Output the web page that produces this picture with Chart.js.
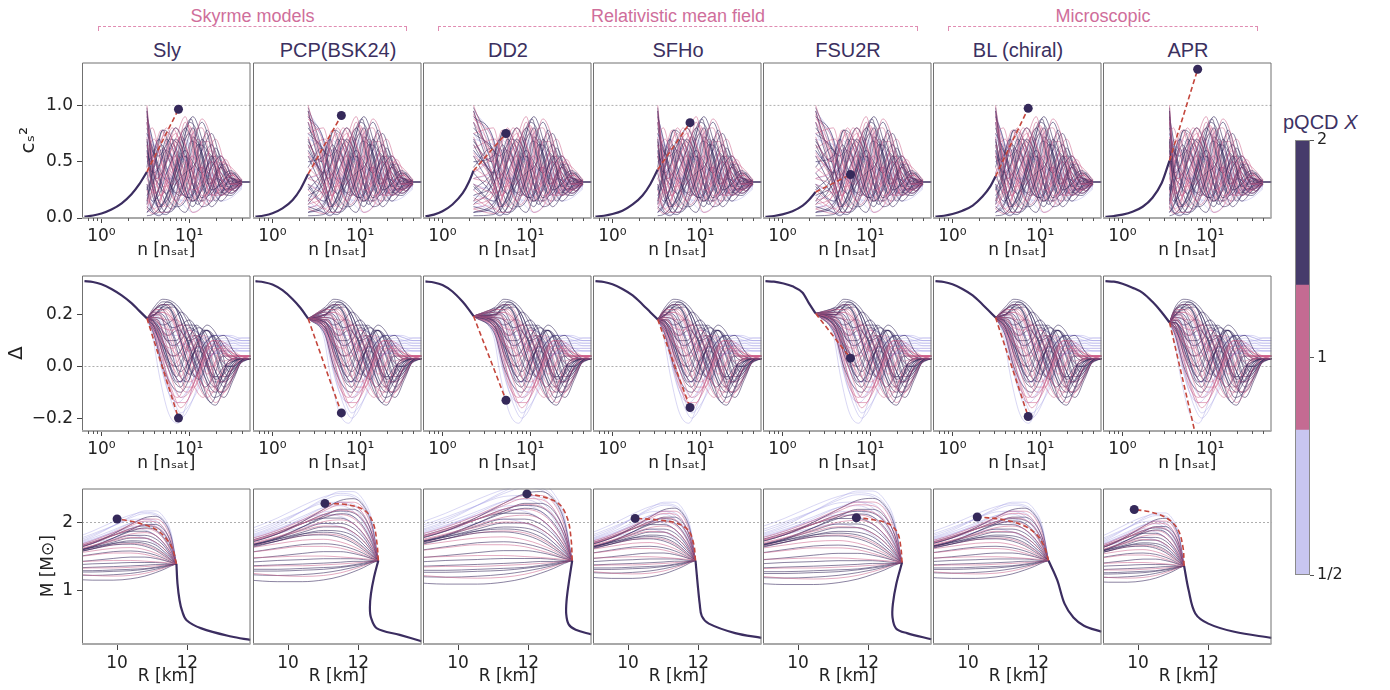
<!DOCTYPE html>
<html><head><meta charset="utf-8">
<script src="https://cdn.jsdelivr.net/npm/chart.js@4.4.0/dist/chart.umd.min.js"></script>
<style>
body{margin:0;background:#fff;width:1390px;height:690px;position:relative;overflow:hidden;font-family:'Liberation Sans',Arial,sans-serif}
canvas{position:absolute}
.colt{position:absolute;top:40px;width:170px;text-align:center;font-size:20px;line-height:20px;color:#3b3060;white-space:nowrap}
.grp{position:absolute;top:7px;text-align:center;font-size:18px;line-height:18px;color:#cf6e9b;white-space:nowrap}
.br{position:absolute;top:26px;height:4px;border-top:1px dashed #e08cb2;border-left:1px solid #e08cb2;border-right:1px solid #e08cb2}
.cbt{position:absolute;left:1283px;top:112px;font-size:20px;line-height:20px;color:#3d3263;white-space:nowrap}
</style></head><body>
<script>
// ---------------- DATA ----------------
const colNames = ['Sly','PCP(BSK24)','DD2','SFHo','FSU2R','BL (chiral)','APR'];
const groupNames = ['Skyrme models','Relativistic mean field','Microscopic'];
const groupSpanPx = [[98,407],[438,918],[948,1258]];

// axis limits and ticks
const nMin = 0.64, nMax = 50;
const xLogTicks = [1, 10];
const xLogTickLabels = ['10⁰','10¹'];
const xMinorTicks = [0.7,0.8,0.9,2,3,4,5,6,7,8,9,20,30,40];
const csMin = 0, csMax = 1.38;
const csTicks = [0, 0.5, 1.0];
const csTickLabels = ['0.0','0.5','1.0'];
const dMin = -0.25, dMax = 0.352;
const dTicks = [-0.2, 0, 0.2];
const dTickLabels = ['−0.2','0.0','0.2'];
const rMin = 9, rMax = 13.8;
const rTicks = [10, 12];
const rTickLabels = ['10','12'];
const mMin = 0.21, mMax = 2.5;
const mTicks = [1, 2];
const mTickLabels = ['1','2'];
const refLineCs = 1.0, refLineDelta = 0.0, refLineM = 2.0;

// colour bar (log2 X)
const cbarSegments = [[-1,-1/3],[-1/3,1/3],[1/3,1]];
const cbarColors = ['#c8c6f0','#c46b92','#463b6b'];
const cbarTicks = [-1, 0, 1];
const cbarTickLabels = ['1/2','1','2'];

// ---- row 1: sound speed squared ----
const nT  = [3.3, 2.55, 2.26, 3.28, 2.39, 3.1, 3.44];
const csT = [0.41, 0.39, 0.42, 0.43, 0.23, 0.37, 0.51];
const csBaseN = [
  [0.64,0.8,1,1.3,1.7,2.2,2.7,3.3],
  [0.64,0.8,1,1.3,1.7,2.1,2.55],
  [0.64,0.8,1,1.3,1.7,2.0,2.26],
  [0.64,0.8,1,1.3,1.7,2.2,2.7,3.28],
  [0.64,0.8,1,1.3,1.7,2.0,2.39],
  [0.64,0.8,1,1.3,1.7,2.2,2.7,3.1],
  [0.64,0.8,1,1.3,1.7,2.2,2.8,3.44]];
const csBaseV = [
  [0.012,0.022,0.04,0.075,0.13,0.21,0.30,0.41],
  [0.012,0.022,0.042,0.085,0.16,0.26,0.39],
  [0.015,0.03,0.06,0.12,0.22,0.32,0.42],
  [0.012,0.02,0.035,0.065,0.12,0.20,0.30,0.43],
  [0.01,0.018,0.032,0.06,0.11,0.16,0.23],
  [0.012,0.02,0.035,0.065,0.11,0.19,0.28,0.37],
  [0.01,0.018,0.03,0.055,0.10,0.18,0.31,0.51]];
const csMarkN = [7.55, 6.1, 5.3, 7.66, 5.96, 7.3, 7.2];
const csMarkV = [0.965, 0.91, 0.75, 0.846, 0.386, 0.973, 1.32];
const pqcdTailN = [40, 50];
const pqcdTailCs = [0.32, 0.32];
// ensemble A: value at transition, then at csGrid densities
const csGrid = [3.8,4.5,5.5,7,9,11,14,18,23,30,40];
const csBankDark = [
  [0.95,0.45,0.30,0.22,0.35,0.62,0.80,0.55,0.25,0.30,0.40,0.32],
  [0.05,0.10,0.25,0.50,0.70,0.55,0.30,0.15,0.25,0.45,0.35,0.30],
  [0.60,0.35,0.15,0.05,0.10,0.35,0.65,0.85,0.60,0.25,0.20,0.31],
  [0.20,0.30,0.45,0.60,0.45,0.20,0.10,0.30,0.55,0.40,0.25,0.33],
  [0.80,0.60,0.55,0.65,0.80,0.60,0.30,0.10,0.15,0.35,0.42,0.30],
  [0.02,0.03,0.08,0.20,0.45,0.75,0.90,0.70,0.35,0.20,0.28,0.32],
  [0.40,0.20,0.10,0.15,0.30,0.40,0.45,0.60,0.75,0.50,0.30,0.34],
  [0.70,0.40,0.45,0.70,0.55,0.25,0.15,0.25,0.45,0.55,0.38,0.29],
  [0.10,0.05,0.02,0.10,0.40,0.60,0.50,0.40,0.50,0.30,0.22,0.31],
  [0.50,0.55,0.70,0.45,0.15,0.05,0.20,0.50,0.65,0.45,0.30,0.33],
  [0.30,0.15,0.20,0.40,0.60,0.80,0.65,0.30,0.10,0.20,0.35,0.30],
  [0.90,0.70,0.40,0.20,0.10,0.15,0.35,0.70,0.50,0.28,0.33,0.32],
  [0.65,0.30,0.08,0.03,0.20,0.55,0.40,0.18,0.30,0.48,0.36,0.31],
  [0.15,0.40,0.62,0.40,0.22,0.35,0.72,0.58,0.28,0.15,0.24,0.30]];
const csBankPink = [
  [0.85,0.55,0.45,0.60,0.75,0.50,0.25,0.30,0.50,0.40,0.30,0.32],
  [0.15,0.25,0.40,0.30,0.15,0.30,0.60,0.88,0.70,0.35,0.25,0.31],
  [0.45,0.30,0.20,0.25,0.50,0.85,0.70,0.40,0.20,0.25,0.38,0.33],
  [0.65,0.50,0.60,0.80,0.60,0.35,0.30,0.45,0.35,0.20,0.30,0.30],
  [0.08,0.04,0.10,0.35,0.55,0.40,0.20,0.15,0.40,0.55,0.40,0.32],
  [1.00,0.50,0.25,0.10,0.20,0.45,0.55,0.40,0.30,0.45,0.35,0.31],
  [0.35,0.45,0.65,0.75,0.50,0.20,0.05,0.10,0.30,0.50,0.45,0.34],
  [0.25,0.10,0.05,0.05,0.15,0.40,0.75,0.80,0.45,0.20,0.25,0.30],
  [0.55,0.40,0.35,0.50,0.70,0.90,0.60,0.25,0.15,0.30,0.40,0.32],
  [0.75,0.80,0.60,0.35,0.30,0.50,0.40,0.20,0.25,0.45,0.30,0.31],
  [0.12,0.20,0.35,0.55,0.80,0.65,0.35,0.45,0.60,0.35,0.22,0.30],
  [0.95,0.35,0.15,0.30,0.45,0.30,0.15,0.35,0.55,0.50,0.36,0.33]];
const csBankLav = [
  [0.50,0.45,0.50,0.55,0.45,0.35,0.40,0.45,0.40,0.30,0.25,0.30],
  [0.90,0.70,0.55,0.50,0.60,0.70,0.55,0.40,0.35,0.40,0.35,0.31],
  [0.20,0.15,0.10,0.15,0.25,0.35,0.30,0.20,0.15,0.20,0.25,0.28],
  [0.70,0.65,0.60,0.45,0.30,0.20,0.25,0.40,0.50,0.45,0.35,0.32],
  [0.05,0.08,0.15,0.25,0.20,0.10,0.05,0.10,0.20,0.25,0.22,0.27],
  [0.40,0.55,0.70,0.65,0.50,0.45,0.55,0.60,0.45,0.35,0.30,0.31],
  [0.30,0.25,0.30,0.40,0.55,0.50,0.35,0.25,0.30,0.35,0.30,0.29],
  [0.85,0.60,0.40,0.35,0.40,0.60,0.75,0.65,0.40,0.25,0.28,0.32],
  [0.15,0.05,0.03,0.05,0.10,0.20,0.30,0.35,0.30,0.15,0.18,0.26],
  [0.60,0.40,0.30,0.35,0.35,0.25,0.20,0.30,0.45,0.55,0.40,0.33],
  [0.35,0.40,0.45,0.35,0.20,0.15,0.20,0.25,0.20,0.30,0.35,0.30],
  [0.75,0.50,0.35,0.30,0.45,0.55,0.45,0.30,0.25,0.20,0.26,0.29]];
// ensemble B on its own density grid
const csGridB = [4.0,4.8,6.0,7.8,10,12.5,16,20,26,33,40];
const csBankDarkB = [
  [0.85,0.30,0.12,0.25,0.55,0.75,0.50,0.22,0.40,0.48,0.30,0.31],
  [0.25,0.45,0.65,0.50,0.25,0.18,0.42,0.78,0.55,0.25,0.27,0.32],
  [0.55,0.20,0.05,0.15,0.45,0.85,0.75,0.35,0.15,0.30,0.40,0.33],
  [0.05,0.15,0.35,0.70,0.62,0.30,0.12,0.30,0.62,0.40,0.24,0.30],
  [0.75,0.58,0.40,0.30,0.20,0.35,0.65,0.60,0.30,0.22,0.34,0.32]];
const csBankPinkB = [
  [0.40,0.60,0.78,0.55,0.28,0.40,0.70,0.50,0.22,0.35,0.38,0.31],
  [0.92,0.42,0.20,0.40,0.70,0.55,0.25,0.12,0.30,0.52,0.36,0.32],
  [0.18,0.08,0.20,0.45,0.72,0.82,0.55,0.28,0.38,0.30,0.24,0.30],
  [0.62,0.70,0.50,0.25,0.12,0.28,0.58,0.75,0.45,0.20,0.30,0.33],
  [0.30,0.22,0.30,0.55,0.40,0.15,0.25,0.55,0.70,0.45,0.28,0.31]];
// ensemble C on a third density grid
const csGridC = [3.6,4.2,5.0,6.4,8.2,10.5,13,16.5,21,27,40];
const csBankDarkC = [
  [0.45,0.62,0.48,0.20,0.08,0.30,0.68,0.62,0.30,0.35,0.28,0.31],
  [0.98,0.62,0.35,0.42,0.66,0.48,0.20,0.32,0.58,0.42,0.30,0.32],
  [0.28,0.12,0.04,0.12,0.35,0.70,0.88,0.52,0.20,0.28,0.36,0.33],
  [0.68,0.50,0.62,0.78,0.52,0.22,0.18,0.45,0.40,0.22,0.26,0.30],
  [0.12,0.30,0.55,0.78,0.70,0.38,0.15,0.20,0.48,0.55,0.34,0.31]];
const csBankPinkC = [
  [0.58,0.35,0.22,0.40,0.62,0.72,0.45,0.18,0.22,0.42,0.34,0.32],
  [0.08,0.18,0.42,0.62,0.45,0.20,0.30,0.65,0.68,0.35,0.24,0.30],
  [0.88,0.72,0.50,0.28,0.32,0.58,0.80,0.55,0.25,0.20,0.30,0.32],
  [0.35,0.28,0.15,0.10,0.28,0.55,0.50,0.30,0.42,0.50,0.38,0.33],
  [0.72,0.38,0.30,0.55,0.80,0.62,0.32,0.22,0.35,0.30,0.26,0.31]];
const csBankLavC = [
  [0.55,0.50,0.42,0.38,0.45,0.52,0.48,0.38,0.30,0.28,0.28,0.30],
  [0.25,0.30,0.38,0.45,0.40,0.30,0.25,0.30,0.38,0.35,0.30,0.30],
  [0.95,0.75,0.62,0.60,0.62,0.55,0.45,0.42,0.40,0.35,0.32,0.31],
  [0.10,0.12,0.20,0.30,0.35,0.28,0.18,0.15,0.20,0.25,0.25,0.28]];

// ---- row 2: trace anomaly Delta ----
const dT = [0.186, 0.185, 0.195, 0.182, 0.205, 0.189, 0.17];
const dBaseV = [
  [0.330,0.327,0.318,0.300,0.275,0.245,0.215,0.186],
  [0.330,0.326,0.317,0.295,0.260,0.225,0.185],
  [0.329,0.325,0.315,0.290,0.250,0.220,0.195],
  [0.330,0.327,0.318,0.300,0.275,0.240,0.210,0.182],
  [0.330,0.328,0.322,0.310,0.285,0.245,0.205],
  [0.330,0.327,0.318,0.300,0.275,0.240,0.210,0.189],
  [0.330,0.328,0.320,0.305,0.285,0.250,0.210,0.170]];
const dMarkV = [-0.20, -0.18, -0.131, -0.159, 0.032, -0.194, -0.30];
const dGrid = [4,5,6.5,8,10,13,16,20,25,32,40,50];
const dBankDark = [
  [0.22,0.24,0.20,0.10,0.00,-0.05,0.02,0.10,0.12,0.06,0.03,0.03],
  [0.15,0.05,-0.05,-0.08,0.00,0.10,0.14,0.08,0.00,0.00,0.02,0.03],
  [0.20,0.22,0.23,0.20,0.12,0.02,-0.06,-0.10,-0.05,0.01,0.03,0.03],
  [0.17,0.12,0.08,0.10,0.15,0.12,0.05,-0.02,-0.08,-0.04,0.02,0.03],
  [0.22,0.25,0.24,0.18,0.08,-0.02,-0.12,-0.15,-0.08,0.00,0.03,0.03],
  [0.12,0.00,-0.08,-0.10,-0.05,0.05,0.10,0.12,0.08,0.04,0.03,0.03],
  [0.19,0.18,0.15,0.16,0.18,0.12,0.02,-0.05,-0.03,0.02,0.03,0.03],
  [0.21,0.20,0.12,0.02,-0.03,0.02,0.08,0.04,-0.04,-0.02,0.02,0.03],
  [0.16,0.10,0.02,-0.02,0.02,0.08,0.02,-0.08,-0.12,-0.05,0.02,0.03],
  [0.20,0.23,0.21,0.14,0.10,0.12,0.14,0.10,0.04,0.02,0.03,0.03],
  [0.18,0.16,0.18,0.21,0.18,0.08,-0.04,-0.08,-0.02,0.02,0.03,0.03],
  [0.14,0.08,0.04,0.06,0.12,0.15,0.12,0.03,-0.06,-0.03,0.02,0.03],
  [0.23,0.26,0.25,0.22,0.16,0.08,0.00,-0.04,0.00,0.02,0.03,0.03],
  [0.17,0.09,-0.02,-0.06,0.03,0.12,0.16,0.13,0.06,0.03,0.03,0.03]];
const dBankPink = [
  [0.21,0.19,0.10,0.00,-0.06,-0.02,0.08,0.10,0.05,0.03,0.03,0.03],
  [0.16,0.06,-0.06,-0.12,-0.10,-0.02,0.06,0.09,0.06,0.04,0.04,0.04],
  [0.22,0.24,0.22,0.15,0.05,-0.05,-0.10,-0.14,-0.10,-0.03,0.02,0.03],
  [0.18,0.15,0.14,0.16,0.12,0.03,-0.03,0.02,0.05,0.04,0.04,0.04],
  [0.13,0.02,-0.10,-0.16,-0.12,-0.04,0.04,0.07,0.07,0.05,0.04,0.04],
  [0.20,0.21,0.17,0.10,0.06,0.08,0.02,-0.08,-0.10,-0.04,0.02,0.03],
  [0.19,0.14,0.06,0.04,0.08,0.12,0.09,0.00,-0.04,0.00,0.03,0.04],
  [0.17,0.10,0.00,-0.04,0.04,0.10,0.05,-0.05,-0.06,0.00,0.03,0.04],
  [0.22,0.22,0.18,0.12,0.02,-0.08,-0.12,-0.08,0.00,0.03,0.04,0.04],
  [0.15,0.09,0.07,0.10,0.14,0.10,0.03,0.06,0.08,0.05,0.04,0.04]];
const dBankLav = [
  [0.14,0.00,-0.12,-0.18,-0.15,-0.08,0.00,0.06,0.09,0.09,0.08,0.08],
  [0.20,0.18,0.15,0.14,0.12,0.10,0.09,0.10,0.11,0.10,0.09,0.09],
  [0.12,-0.02,-0.15,-0.20,-0.16,-0.06,0.02,0.06,0.07,0.07,0.07,0.07],
  [0.18,0.14,0.08,0.05,0.06,0.08,0.10,0.12,0.12,0.11,0.10,0.10],
  [0.16,0.08,-0.02,-0.06,-0.04,0.02,0.06,0.08,0.08,0.07,0.06,0.06],
  [0.21,0.20,0.16,0.10,0.04,0.00,0.02,0.06,0.09,0.10,0.11,0.11],
  [0.13,0.02,-0.08,-0.12,-0.08,0.00,0.05,0.05,0.05,0.06,0.06,0.06],
  [0.19,0.16,0.12,0.12,0.14,0.13,0.10,0.08,0.08,0.09,0.09,0.09],
  [0.15,0.05,-0.04,-0.06,0.00,0.06,0.10,0.12,0.12,0.11,0.10,0.10],
  [0.17,0.11,0.04,0.00,0.02,0.04,0.04,0.05,0.06,0.07,0.07,0.07]];
const dGridB = [4.4,5.6,7.2,9,11.5,14.5,18,22.5,28,35,42,50];
const dBankDarkB = [
  [0.23,0.24,0.16,0.04,-0.04,0.04,0.12,0.08,-0.02,0.00,0.03,0.03],
  [0.13,0.02,-0.04,0.04,0.12,0.10,0.00,-0.10,-0.08,0.00,0.03,0.03],
  [0.21,0.25,0.22,0.12,0.00,-0.10,-0.14,-0.06,0.02,0.03,0.03,0.03],
  [0.18,0.10,0.10,0.16,0.16,0.06,-0.04,-0.04,0.02,0.03,0.03,0.03],
  [0.16,0.04,-0.06,-0.04,0.06,0.14,0.12,0.02,-0.04,0.00,0.02,0.03]];
const dBankPinkB = [
  [0.20,0.14,0.02,-0.08,-0.08,0.02,0.10,0.10,0.04,0.03,0.04,0.04],
  [0.22,0.22,0.14,0.02,-0.08,-0.12,-0.04,0.06,0.06,0.04,0.04,0.04],
  [0.15,0.06,0.04,0.10,0.12,0.04,-0.06,-0.10,-0.04,0.02,0.03,0.04],
  [0.12,-0.04,-0.14,-0.14,-0.06,0.04,0.08,0.06,0.04,0.04,0.04,0.04],
  [0.19,0.18,0.18,0.14,0.06,0.00,0.04,0.10,0.08,0.05,0.04,0.04]];
const dGridC = [3.8,4.6,5.8,7.4,9.5,12,15,19,24,30,38,50];
const dBankDarkC = [
  [0.20,0.20,0.10,-0.02,-0.06,0.04,0.14,0.12,0.02,0.00,0.02,0.03],
  [0.19,0.22,0.24,0.22,0.14,0.04,-0.04,-0.12,-0.10,-0.02,0.02,0.03],
  [0.17,0.10,0.02,0.00,0.08,0.16,0.12,0.00,-0.06,-0.02,0.02,0.03],
  [0.21,0.23,0.18,0.08,0.02,0.06,0.04,-0.06,-0.06,0.00,0.03,0.03],
  [0.18,0.15,0.12,0.14,0.10,0.00,-0.08,-0.04,0.04,0.04,0.03,0.03]];
const dBankPinkC = [
  [0.19,0.16,0.06,-0.06,-0.10,-0.04,0.06,0.10,0.06,0.04,0.04,0.04],
  [0.20,0.21,0.20,0.16,0.08,-0.02,-0.08,-0.10,-0.04,0.02,0.03,0.04],
  [0.15,0.04,-0.08,-0.12,-0.04,0.08,0.12,0.06,0.02,0.03,0.04,0.04],
  [0.18,0.14,0.12,0.16,0.16,0.08,0.00,0.00,0.04,0.04,0.04,0.04],
  [0.16,0.08,0.00,0.02,0.08,0.04,-0.06,-0.08,-0.02,0.02,0.03,0.04]];
const dBankLavC = [
  [0.14,0.02,-0.10,-0.14,-0.10,-0.02,0.04,0.08,0.10,0.10,0.10,0.10],
  [0.18,0.15,0.10,0.08,0.09,0.10,0.11,0.12,0.12,0.12,0.11,0.11],
  [0.12,-0.04,-0.18,-0.22,-0.14,-0.04,0.02,0.05,0.06,0.06,0.06,0.06],
  [0.20,0.18,0.14,0.10,0.08,0.07,0.08,0.09,0.09,0.08,0.08,0.08]];

// ---- row 3: mass-radius ----
const RT = [11.69, 12.57, 13.25, 11.92, 12.96, 12.29, 11.31];
const MT = [1.39, 1.44, 1.44, 1.44, 1.41, 1.44, 1.36];
const mrMarkR = [10.0, 11.05, 11.96, 10.2, 11.66, 10.26, 9.89];
const mrMarkM = [2.05, 2.28, 2.42, 2.06, 2.07, 2.08, 2.19];
const mrDashR = [
  [11.69,11.56,11.19,10.63,10.27,10.0],
  [12.57,12.53,12.43,12.2,11.7,11.05],
  [13.25,13.22,13.12,12.88,12.4,11.96],
  [11.92,11.87,11.72,11.38,10.8,10.2],
  [12.96,12.93,12.83,12.58,12.14,11.66],
  [12.29,12.18,11.94,11.5,10.9,10.26],
  [11.31,11.28,11.13,10.8,10.3,9.89]];
const mrDashM = [
  [1.39,1.63,1.87,1.99,2.03,2.05],
  [1.44,1.70,1.98,2.17,2.26,2.28],
  [1.44,1.75,2.05,2.27,2.38,2.42],
  [1.44,1.68,1.88,1.99,2.04,2.06],
  [1.41,1.62,1.85,1.98,2.04,2.07],
  [1.44,1.63,1.83,1.97,2.05,2.08],
  [1.36,1.63,1.90,2.07,2.16,2.19]];
const mrBaseR = [
  [11.69,11.72,11.78,11.85,11.98,12.4,13.25,13.8],
  [12.57,12.45,12.36,12.33,12.36,12.53,13.18,13.8],
  [13.25,13.15,13.09,13.08,13.15,13.35,13.8],
  [11.92,11.98,12.04,12.1,12.3,13.05,13.8],
  [12.96,12.8,12.7,12.69,12.79,13.1,13.8],
  [12.29,12.54,12.75,13.0,13.3,13.8],
  [11.31,11.44,11.63,12.0,12.74,13.8]];
const mrBaseM = [
  [1.39,1.10,0.85,0.70,0.56,0.44,0.32,0.27],
  [1.44,1.20,0.95,0.75,0.60,0.44,0.345,0.25],
  [1.44,1.10,0.85,0.65,0.50,0.42,0.35],
  [1.44,1.10,0.80,0.62,0.51,0.37,0.30],
  [1.41,1.10,0.80,0.60,0.44,0.37,0.28],
  [1.44,1.15,0.80,0.60,0.48,0.39],
  [1.36,1.00,0.66,0.51,0.39,0.30]];
// ensemble mass offsets at radius offsets from the transition point
const mrGridDR = [0,-0.15,-0.35,-0.6,-0.9,-1.3,-1.8,-2.4,-3.1,-4.0];
const mrScaleR = [1.0, 1.2, 1.5, 1.0, 1.4, 1.15, 0.9];
const mrScaleM = [1.0, 1.3, 1.45, 1.1, 1.35, 1.1, 1.0];
const mrBankDark = [
  [0,0.40,0.62,0.70,0.68,0.58,0.44,0.30,0.20,0.14],
  [0,0.20,0.38,0.50,0.53,0.48,0.38,0.26,0.17,0.12],
  [0,0.08,0.18,0.28,0.33,0.34,0.30,0.22,0.14,0.09],
  [0,0.02,0.05,0.08,0.10,0.10,0.08,0.05,0.02,0.00],
  [0,-0.01,-0.03,-0.05,-0.07,-0.08,-0.09,-0.10,-0.10,-0.10],
  [0,0.30,0.50,0.58,0.58,0.50,0.38,0.25,0.16,0.10],
  [0,0.05,0.12,0.20,0.26,0.29,0.28,0.22,0.15,0.10],
  [0,0.00,0.01,0.02,0.02,0.02,0.01,0.00,-0.02,-0.03],
  [0,0.12,0.26,0.37,0.42,0.42,0.35,0.25,0.17,0.12],
  [0,-0.02,-0.04,-0.06,-0.08,-0.10,-0.11,-0.12,-0.12,-0.12],
  [0,-0.03,-0.08,-0.13,-0.18,-0.22,-0.24,-0.24,-0.22,-0.18],
  [0,0.15,0.30,0.42,0.48,0.48,0.42,0.32,0.22,0.16],
  [0,0.03,0.08,0.13,0.17,0.19,0.18,0.14,0.09,0.06],
  [0,-0.01,-0.01,-0.01,-0.02,-0.03,-0.04,-0.05,-0.06,-0.06],
  [0,0.25,0.44,0.54,0.56,0.52,0.42,0.30,0.20,0.14],
  [0,0.06,0.15,0.24,0.30,0.32,0.30,0.24,0.17,0.12],
  [0,-0.02,-0.05,-0.08,-0.11,-0.14,-0.16,-0.17,-0.16,-0.14],
  [0,0.10,0.22,0.32,0.38,0.38,0.32,0.24,0.16,0.10]];
const mrBankPink = [
  [0,0.35,0.58,0.66,0.66,0.58,0.46,0.34,0.24,0.18],
  [0,0.15,0.30,0.42,0.46,0.44,0.36,0.27,0.19,0.14],
  [0,0.04,0.10,0.16,0.21,0.24,0.23,0.19,0.14,0.10],
  [0,0.01,0.02,0.03,0.04,0.05,0.05,0.04,0.03,0.02],
  [0,0.25,0.45,0.55,0.57,0.52,0.42,0.30,0.21,0.15],
  [0,-0.01,-0.02,-0.03,-0.04,-0.05,-0.06,-0.06,-0.07,-0.07],
  [0,0.10,0.22,0.32,0.38,0.39,0.34,0.26,0.18,0.13],
  [0,-0.02,-0.06,-0.10,-0.14,-0.17,-0.18,-0.17,-0.14,-0.10],
  [0,0.06,0.14,0.22,0.28,0.30,0.28,0.22,0.16,0.11],
  [0,0.30,0.52,0.62,0.63,0.56,0.44,0.32,0.22,0.16],
  [0,0.02,0.06,0.10,0.14,0.16,0.16,0.13,0.09,0.06],
  [0,0.18,0.36,0.48,0.52,0.50,0.42,0.31,0.21,0.15]];
const mrBankLav = [
  [0,0.45,0.68,0.78,0.78,0.70,0.56,0.40,0.28,0.20],
  [0,0.30,0.52,0.64,0.66,0.60,0.48,0.35,0.25,0.18],
  [0,0.18,0.36,0.50,0.56,0.55,0.46,0.34,0.24,0.18],
  [0,0.38,0.60,0.72,0.74,0.68,0.56,0.42,0.30,0.22],
  [0,0.08,0.18,0.30,0.38,0.42,0.38,0.30,0.22,0.16],
  [0,0.22,0.42,0.56,0.62,0.60,0.50,0.38,0.27,0.20],
  [0,0.12,0.28,0.42,0.50,0.52,0.46,0.36,0.26,0.19],
  [0,0.42,0.64,0.74,0.76,0.72,0.62,0.48,0.35,0.25],
  [0,0.26,0.46,0.60,0.66,0.65,0.56,0.44,0.32,0.24]];

// ---------------- STYLE / LAYOUT ----------------
const colLeft = [82,253,423,593,763,933,1103];
const panelW = 170, panelH = 157;
const rowTop = [61, 274, 487];
const padB = 46;
const C_DARK = 'rgba(58,44,96,0.66)', C_PINK = 'rgba(204,98,140,0.6)', C_LAV = 'rgba(160,155,228,0.45)';
const C_BASE = '#3b2d60', C_RED = '#c4463c', C_MARK = '#35295a';
const LW = 0.9;
const FONT = 'DejaVu Sans';
Chart.defaults.font.family = FONT;
Chart.defaults.color = '#222';

// ---------------- HEADER TEXT ----------------
groupNames.forEach((g,i)=>{
  const [a,b] = groupSpanPx[i];
  const t = document.createElement('div'); t.className='grp'; t.style.left=a+'px'; t.style.width=(b-a)+'px'; t.textContent=g; document.body.appendChild(t);
  const br = document.createElement('div'); br.className='br'; br.style.left=a+'px'; br.style.width=(b-a-2)+'px'; document.body.appendChild(br);
});
colNames.forEach((n,i)=>{
  const t = document.createElement('div'); t.className='colt'; t.style.left=colLeft[i]+'px'; t.textContent=n; document.body.appendChild(t);
});
const cbt = document.createElement('div'); cbt.className='cbt'; cbt.innerHTML='pQCD <i>X</i>'; document.body.appendChild(cbt);

// ---------------- PLUGINS ----------------
const framePlugin = {id:'frame', afterDraw(chart){
  const {ctx, chartArea:a} = chart; ctx.save();
  ctx.strokeStyle='#707070'; ctx.lineWidth=1;
  ctx.beginPath();
  ctx.moveTo(a.left+0.5,a.bottom); ctx.lineTo(a.left+0.5,a.top+0.5); ctx.lineTo(a.right-0.5,a.top+0.5); ctx.lineTo(a.right-0.5,a.bottom);
  ctx.stroke();
  ctx.strokeStyle='#a8a8a8'; ctx.lineWidth=2;
  ctx.beginPath(); ctx.moveTo(a.left,a.bottom); ctx.lineTo(a.right,a.bottom); ctx.stroke();
  ctx.restore();
}};
const minorPlugin = {id:'minor', afterDraw(chart){
  const {ctx, chartArea:a} = chart; const s = chart.scales.x;
  ctx.save(); ctx.strokeStyle='#555'; ctx.lineWidth=1; ctx.beginPath();
  xMinorTicks.forEach(v=>{ const px = Math.round(s.getPixelForValue(v))+0.5; ctx.moveTo(px,a.bottom); ctx.lineTo(px,a.bottom+3); });
  ctx.stroke(); ctx.restore();
}};

function findLabel(vals, labels, v){ for(let i=0;i<vals.length;i++){ if(Math.abs(vals[i]-v)<1e-9) return labels[i]; } return ''; }

function xAxis(log, title){
  const vals = log ? xLogTicks : rTicks, labs = log ? xLogTickLabels : rTickLabels;
  return {
    type: log ? 'logarithmic' : 'linear',
    min: log ? nMin : rMin, max: log ? nMax : rMax,
    afterBuildTicks: s => { s.ticks = vals.map(v=>({value:v})); },
    ticks: {callback: v => findLabel(vals, labs, v), font:{size:17, family:FONT}, color:'#222', padding:3, maxRotation:0, autoSkip:false},
    grid: {drawOnChartArea:false, drawTicks:true, tickLength: log?5:6, tickColor:'#444', tickWidth:1},
    border: {display:false},
    title: {display:true, text:title, font:{size:17, family:FONT}, color:'#222', padding:{top:0,bottom:3}},
    afterFit: s => { s.height = padB; s.paddingLeft = 0; s.paddingRight = 0; }
  };
}
function yAxis(show, min, max, vals, labs, title, tsize, tpad){
  if(!show) return {type:'linear', min, max, display:false};
  return {
    type:'linear', min, max,
    afterBuildTicks: s => { s.ticks = vals.map(v=>({value:v})); },
    ticks: {callback: v => findLabel(vals, labs, v), font:{size:17, family:FONT}, color:'#222', padding:4},
    grid: {drawOnChartArea:false, drawTicks:true, tickLength:5, tickColor:'#444'},
    border: {display:false},
    title: {display:true, text:title, font:{size:tsize, family:FONT}, color:'#222', padding:{top:tpad,bottom:0}},
    afterFit: s => { s.width = 82; s.paddingTop = 0; s.paddingBottom = 0; }
  };
}

function line(data, color, width, order, extra){
  return Object.assign({data, showLine:true, borderColor:color, borderWidth:width, pointRadius:0, fill:false, order}, extra||{});
}
function pts(xs, ys){ return xs.map((x,i)=>({x, y:ys[i]})); }

function makePanel(row, c, datasets){
  const padL = c===0 ? 82 : 5, padT = 3, padR = 3;
  const w = panelW + padL + padR, h = panelH + padT + padB;
  const cv = document.createElement('canvas');
  cv.width = w; cv.height = h;
  cv.style.left = (colLeft[c]-padL)+'px'; cv.style.top = (rowTop[row]-padT)+'px';
  cv.style.width = w+'px'; cv.style.height = h+'px';
  document.body.appendChild(cv);
  let xs, ys;
  if(row===0){ xs = xAxis(true,'n [nₛₐₜ]'); ys = yAxis(c===0, csMin, csMax, csTicks, csTickLabels, 'cₛ²', 20, 17); }
  else if(row===1){ xs = xAxis(true,'n [nₛₐₜ]'); ys = yAxis(c===0, dMin, dMax, dTicks, dTickLabels, 'Δ', 20, 5); }
  else { xs = xAxis(false,'R [km]'); ys = yAxis(c===0, mMin, mMax, mTicks, mTickLabels, 'M [M⊙]', 17, 38); }
  new Chart(cv.getContext('2d'), {
    type:'scatter',
    data:{datasets},
    options:{
      responsive:false, animation:false, events:[], devicePixelRatio:1,
      layout:{padding:{left: c===0?0:5, top:padT, right:padR, bottom:0}},
      plugins:{legend:{display:false}, tooltip:{enabled:false}, title:{display:false}},
      scales:{x:xs, y:ys}
    },
    plugins: row<2 ? [framePlugin, minorPlugin] : [framePlugin]
  });
}

function ensemble(out, banks, build){
  const [dark, pink, lav] = banks;
  (lav||[]).forEach(v => out.push(line(build(v), C_LAV, LW, 6, {cubicInterpolationMode:'monotone'})));
  const m = Math.max(dark.length, pink.length);
  for(let k=0;k<m;k++){
    if(k<pink.length) out.push(line(build(pink[k]), C_PINK, LW, 5, {cubicInterpolationMode:'monotone'}));
    if(k<dark.length) out.push(line(build(dark[k]), C_DARK, LW, 5, {cubicInterpolationMode:'monotone'}));
  }
  return out;
}

// ---------------- BUILD PANELS ----------------
for(let c=0;c<7;c++){
  // row 1
  let ds = [];
  const csCurve = grid => v => [{x:nT[c], y:v[0]}].concat(grid.map((x,j)=>({x, y:v[j+1]})));
  ensemble(ds, [csBankDark, csBankPink, csBankLav], csCurve(csGrid));
  ensemble(ds, [csBankDarkB, csBankPinkB, null], csCurve(csGridB));
  ensemble(ds, [csBankDarkC, csBankPinkC, csBankLavC], csCurve(csGridC));
  ds.push(line(pts([nMin,nMax],[refLineCs,refLineCs]), '#9a9a9a', 0.8, 7, {borderDash:[2,2]}));
  ds.push(line(pts(csBaseN[c], csBaseV[c]), C_BASE, 2.2, 2, {cubicInterpolationMode:'monotone'}));
  ds.push(line(pts(pqcdTailN, pqcdTailCs), C_BASE, 1.6, 2));
  ds.push(line(pts([nT[c], csMarkN[c]], [csT[c], csMarkV[c]]), C_RED, 1.6, 1, {borderDash:[5,3]}));
  ds.push({data:[{x:csMarkN[c], y:csMarkV[c]}], showLine:false, pointRadius:4.5, pointBackgroundColor:C_MARK, pointBorderWidth:0, order:0});
  makePanel(0, c, ds);

  // row 2
  ds = [];
  const dCurve = grid => v => [{x:nT[c], y:dT[c]}].concat(grid.map((x,j)=>({x, y:v[j]})));
  ensemble(ds, [dBankDark, dBankPink, dBankLav], dCurve(dGrid));
  ensemble(ds, [dBankDarkB, dBankPinkB, null], dCurve(dGridB));
  ensemble(ds, [dBankDarkC, dBankPinkC, dBankLavC], dCurve(dGridC));
  ds.push(line(pts([nMin,nMax],[refLineDelta,refLineDelta]), '#9a9a9a', 0.8, 7, {borderDash:[2,2]}));
  ds.push(line(pts(csBaseN[c], dBaseV[c]), C_BASE, 2.2, 2, {cubicInterpolationMode:'monotone'}));
  ds.push(line(pts([nT[c], csMarkN[c]], [dT[c], dMarkV[c]]), C_RED, 1.6, 1, {borderDash:[5,3]}));
  ds.push({data:[{x:csMarkN[c], y:dMarkV[c]}], showLine:false, pointRadius:4.5, pointBackgroundColor:C_MARK, pointBorderWidth:0, order:0});
  makePanel(1, c, ds);

  // row 3
  ds = [];
  ensemble(ds, [mrBankDark, mrBankPink, mrBankLav], v => mrGridDR.map((d,j)=>({x: RT[c] + mrScaleR[c]*d, y: MT[c] + mrScaleM[c]*v[j]})).reverse());
  ds.push(line(pts([rMin,rMax],[refLineM,refLineM]), '#9a9a9a', 0.8, 7, {borderDash:[2,2]}));
  ds.push(line(pts(mrBaseR[c], mrBaseM[c]), C_BASE, 2.2, 2, {tension:0.35}));
  ds.push(line(pts(mrDashR[c], mrDashM[c]), C_RED, 1.6, 1, {borderDash:[5,3], tension:0.35}));
  ds.push({data:[{x:mrMarkR[c], y:mrMarkM[c]}], showLine:false, pointRadius:4.5, pointBackgroundColor:C_MARK, pointBorderWidth:0, order:0});
  makePanel(2, c, ds);
}

// ---------------- COLOUR BAR ----------------
(function(){
  const w = 80, h = 475;
  const cv = document.createElement('canvas'); cv.width=w; cv.height=h;
  cv.style.left='1295px'; cv.style.top='120px'; cv.style.width=w+'px'; cv.style.height=h+'px';
  document.body.appendChild(cv);
  new Chart(cv.getContext('2d'), {
    type:'bar',
    data:{labels:['X'], datasets: cbarSegments.map((s,i)=>({data:[s], backgroundColor:cbarColors[i], borderWidth:0, barPercentage:1, categoryPercentage:1, grouped:false}))},
    options:{
      responsive:false, animation:false, events:[], devicePixelRatio:1,
      layout:{padding:{left:0, top:20, right:0, bottom:20}},
      plugins:{legend:{display:false}, tooltip:{enabled:false}},
      scales:{
        x:{display:false},
        y:{position:'right', min:-1, max:1,
           afterBuildTicks: s => { s.ticks = cbarTicks.map(v=>({value:v})); },
           ticks:{callback: v => findLabel(cbarTicks, cbarTickLabels, v), font:{size:16, family:FONT}, color:'#222', padding:3},
           grid:{drawOnChartArea:false, tickLength:4, tickColor:'#555'},
           border:{display:false},
           afterFit: s => { s.width = 65; s.paddingTop = 0; s.paddingBottom = 0; }}
      }
    },
    plugins:[{id:'cbframe', afterDraw(chart){ const {ctx, chartArea:a}=chart; ctx.save(); ctx.strokeStyle='#8a8a8a'; ctx.lineWidth=1; ctx.strokeRect(a.left+0.5,a.top+0.5,a.width-1,a.height-1); ctx.restore(); }}]
  });
})();
</script>
</body></html>
